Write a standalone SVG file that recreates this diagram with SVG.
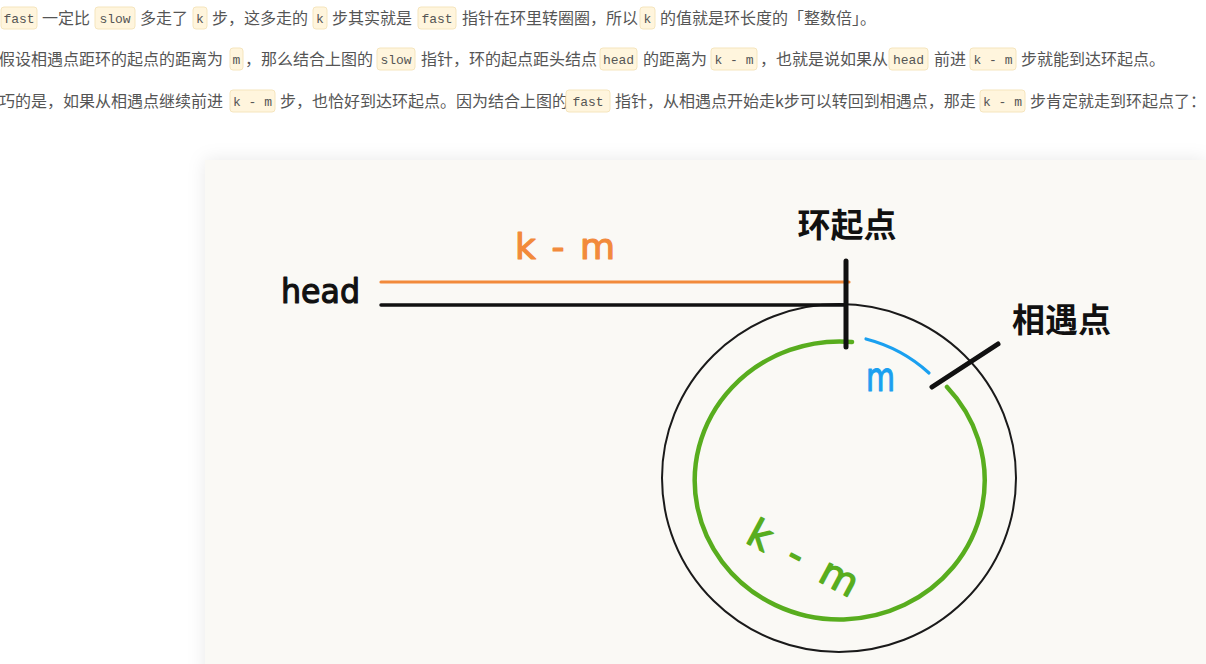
<svg xmlns="http://www.w3.org/2000/svg" width="1206" height="664" viewBox="0 0 1206 664">
<defs>
<style>
.t{font-family:"Noto Sans CJK SC","Noto Sans",sans-serif;font-size:16px;fill:#555}
.c{font-family:"Liberation Mono","DejaVu Sans Mono",monospace;font-size:13px;fill:#555;text-anchor:middle}
.cb{fill:#fff5dd;stroke:#f5e5bd;stroke-width:1}
.hand{font-family:"DejaVu Sans",sans-serif;stroke-linejoin:round}
.cjkb{font-family:"Noto Sans CJK SC",sans-serif;font-weight:bold;font-size:33px;fill:#111}
.blk{stroke:#111;stroke-linecap:round;fill:none}
</style>
<filter id="sh" x="-5%" y="-10%" width="110%" height="120%">
<feDropShadow dx="0" dy="0" stdDeviation="9" flood-color="#000" flood-opacity="0.09"/>
</filter>
</defs>
<rect width="1206" height="664" fill="#fff"/>

<g id="paragraph">
<!-- line 1 -->
<rect class="cb" x="1" y="7" width="36" height="22" rx="3"/><text class="c" x="19" y="23">fast</text>
<text class="t" x="42" y="24">一定比</text>
<rect class="cb" x="95" y="7" width="40" height="22" rx="3"/><text class="c" x="115" y="23">slow</text>
<text class="t" x="140" y="24">多走了</text>
<rect class="cb" x="193" y="7" width="14" height="22" rx="3"/><text class="c" x="200" y="23">k</text>
<text class="t" x="212" y="24">步，这多走的</text>
<rect class="cb" x="313" y="7" width="14" height="22" rx="3"/><text class="c" x="320" y="23">k</text>
<text class="t" x="332" y="24">步其实就是</text>
<rect class="cb" x="418" y="7" width="38" height="22" rx="3"/><text class="c" x="437" y="23">fast</text>
<text class="t" x="462" y="24">指针在环里转圈圈，所以</text>
<rect class="cb" x="640" y="7" width="15" height="22" rx="3"/><text class="c" x="647.5" y="23">k</text>
<text class="t" x="660" y="24">的值就是环长度的「整数倍」。</text>
<!-- line 2 -->
<text class="t" x="-1" y="65">假设相遇点距环的起点的距离为</text>
<rect class="cb" x="230" y="48" width="13" height="22" rx="3"/><text class="c" x="236.5" y="64">m</text>
<text class="t" x="245" y="65">，那么结合上图的</text>
<rect class="cb" x="377" y="48" width="38" height="22" rx="3"/><text class="c" x="396" y="64">slow</text>
<text class="t" x="421" y="65">指针，环的起点距头结点</text>
<rect class="cb" x="600" y="48" width="37" height="22" rx="3"/><text class="c" x="618.5" y="64">head</text>
<text class="t" x="643" y="65">的距离为</text>
<rect class="cb" x="711" y="48" width="46" height="22" rx="3"/><text class="c" x="734" y="64">k - m</text>
<text class="t" x="760" y="65">，也就是说如果从</text>
<rect class="cb" x="889" y="48" width="39" height="22" rx="3"/><text class="c" x="908.5" y="64">head</text>
<text class="t" x="934" y="65">前进</text>
<rect class="cb" x="970" y="48" width="46" height="22" rx="3"/><text class="c" x="993" y="64">k - m</text>
<text class="t" x="1021" y="65">步就能到达环起点。</text>
<!-- line 3 -->
<text class="t" x="-1" y="107">巧的是，如果从相遇点继续前进</text>
<rect class="cb" x="230" y="90" width="45" height="22" rx="3"/><text class="c" x="252.5" y="106">k - m</text>
<text class="t" x="280" y="107">步，也恰好到达环起点。因为结合上图的</text>
<rect class="cb" x="566" y="90" width="44" height="22" rx="3"/><text class="c" x="588" y="106">fast</text>
<text class="t" x="615" y="107">指针，从相遇点开始走k步可以转回到相遇点，那走</text>
<rect class="cb" x="980" y="90" width="45" height="22" rx="3"/><text class="c" x="1002.5" y="106">k - m</text>
<text class="t" x="1030" y="107">步肯定就走到环起点了：</text>
</g>

<rect id="panel" x="205" y="160" width="1001" height="520" fill="#faf9f5" filter="url(#sh)"/>

<g id="ring">
<ellipse cx="839" cy="478" rx="177" ry="174" fill="none" stroke="#1a1a1a" stroke-width="2"/>
</g>

<g id="connectors">
<line x1="381" y1="282" x2="849" y2="282" stroke="#f28a3b" stroke-width="3.2" stroke-linecap="round"/>
<line class="blk" x1="381" y1="305" x2="846" y2="305" stroke-width="3.5"/>
<path d="M947,387 A145 139 0 1 1 852 342" fill="none" stroke="#58ad1e" stroke-width="4.5" stroke-linecap="round"/>
<path d="M866,339 A147 142 0 0 1 929 373" fill="none" stroke="#1aa0f0" stroke-width="3.2" stroke-linecap="round"/>
</g>

<g id="head">
<text class="hand" x="281" y="303" font-size="33" fill="#111" stroke="#111" stroke-width="1.2" textLength="79" lengthAdjust="spacingAndGlyphs">head</text>
</g>

<g id="ring-start">
<line class="blk" x1="846" y1="261" x2="846" y2="347" stroke-width="5"/>
<text class="cjkb" x="847" y="237" text-anchor="middle">环起点</text>
</g>

<g id="meeting-point">
<line class="blk" x1="932" y1="387" x2="998" y2="344" stroke-width="5"/>
<text class="cjkb" x="1012" y="332">相遇点</text>
</g>

<g id="labels">
<text class="hand" x="515" y="259" font-size="36" fill="#f28a3b" stroke="#f28a3b" stroke-width="1.2" textLength="100">k - m</text>
<text class="hand" x="866" y="391" font-size="40" fill="#1aa0f0" stroke="#1aa0f0" stroke-width="1.2" textLength="29" lengthAdjust="spacingAndGlyphs">m</text>
<text class="hand" x="0" y="0" font-size="39" fill="#58ad1e" stroke="#58ad1e" stroke-width="1.4" text-anchor="middle" textLength="120" transform="translate(797,570) rotate(28)">k - m</text>
</g>
</svg>
